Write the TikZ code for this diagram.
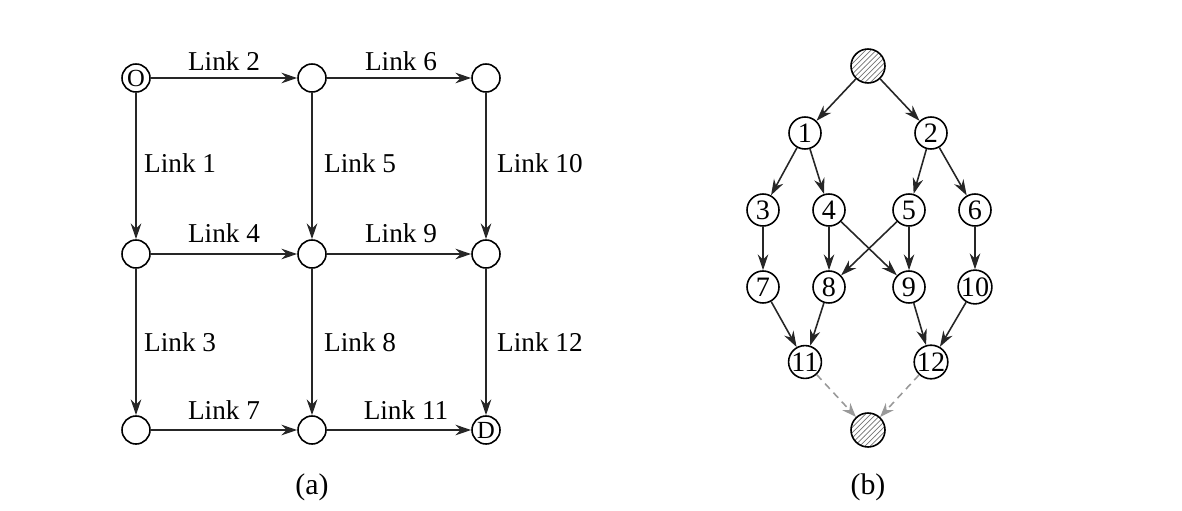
\documentclass[tikz,border=0pt]{standalone}
\usepackage{fontspec}
\setmainfont{Liberation Serif}
\usetikzlibrary{arrows.meta,patterns}
\begin{document}
\begin{tikzpicture}[x=0.02cm,y=-0.02cm,
  vtx/.style={circle,draw,line width=0.9pt,minimum size=28*0.02cm,inner sep=0pt,font=\fontsize{14}{14}\selectfont},
  num/.style={circle,draw,line width=0.9pt,minimum size=32*0.02cm,inner sep=0pt,font=\fontsize{16}{16}\selectfont},
  hat/.style={circle,draw,line width=0.9pt,minimum size=34*0.02cm,inner sep=0pt,pattern=north east lines,pattern color=gray!90!black},
  lnk/.style={font=\fontsize{15.5}{15.5}\selectfont},
  arr/.style={-{Stealth[length=9pt,width=6pt]},line width=0.9pt,draw=black!85},
  darr/.style={-{Stealth[length=8pt,width=6pt]},line width=0.9pt,draw=gray!80,dash pattern=on 4pt off 3pt}]
\useasboundingbox (0,0) rectangle (1182,510);
% grid network
\node[vtx] (o) at (136,78) {O};
\node[vtx] (a2) at (312,78) {};
\node[vtx] (a3) at (486,78) {};
\node[vtx] (b1) at (136,254) {};
\node[vtx] (b2) at (312,254) {};
\node[vtx] (b3) at (486,254) {};
\node[vtx] (c1) at (136,430) {};
\node[vtx] (c2) at (312,430) {};
\node[vtx] (d) at (486,430) {D};
\draw[arr] (o) -- (a2);
\draw[arr] (a2) -- (a3);
\draw[arr] (b1) -- (b2);
\draw[arr] (b2) -- (b3);
\draw[arr] (c1) -- (c2);
\draw[arr] (c2) -- (d);
\draw[arr] (o) -- (b1);
\draw[arr] (b1) -- (c1);
\draw[arr] (a2) -- (b2);
\draw[arr] (b2) -- (c2);
\draw[arr] (a3) -- (b3);
\draw[arr] (b3) -- (d);
\node[lnk] (l2) at (224,61) {Link 2};
\node[lnk] (l6) at (401,61) {Link 6};
\node[lnk] (l4) at (224,233) {Link 4};
\node[lnk] (l9) at (401,233) {Link 9};
\node[lnk] (l7) at (224,410) {Link 7};
\node[lnk] (l11) at (406,410) {Link 11};
\node[lnk,anchor=west] (l1) at (138,163) {Link 1};
\node[lnk,anchor=west] (l5) at (318,163) {Link 5};
\node[lnk,anchor=west] (l10) at (491,163) {Link 10};
\node[lnk,anchor=west] (l3) at (138,342) {Link 3};
\node[lnk,anchor=west] (l8) at (318,342) {Link 8};
\node[lnk,anchor=west] (l12) at (491,342) {Link 12};
\node[lnk,font=\fontsize{17}{17}\selectfont] (capa) at (312,487) {(a)};
% path tree
\node[hat] (s) at (868,66) {};
\node[num] (n1) at (805,133) {1};
\node[num] (n2) at (931,133) {2};
\node[num] (n3) at (763,210) {3};
\node[num] (n4) at (829,210) {4};
\node[num] (n5) at (909,210) {5};
\node[num] (n6) at (975,210) {6};
\node[num] (n7) at (763,287) {7};
\node[num] (n8) at (829,287) {8};
\node[num] (n9) at (909,287) {9};
\node[num] (n10) at (975,287) {10};
\node[num] (n11) at (805,362) {11};
\node[num] (n12) at (931,362) {12};
\node[hat] (t) at (868,430) {};
\draw[arr] (s) -- (n1);
\draw[arr] (s) -- (n2);
\draw[arr] (n1) -- (n3);
\draw[arr] (n1) -- (n4);
\draw[arr] (n2) -- (n5);
\draw[arr] (n2) -- (n6);
\draw[arr] (n3) -- (n7);
\draw[arr] (n4) -- (n8);
\draw[arr] (n4) -- (n9);
\draw[arr] (n5) -- (n8);
\draw[arr] (n5) -- (n9);
\draw[arr] (n6) -- (n10);
\draw[arr] (n7) -- (n11);
\draw[arr] (n8) -- (n11);
\draw[arr] (n9) -- (n12);
\draw[arr] (n10) -- (n12);
\draw[darr] (n11) -- (t);
\draw[darr] (n12) -- (t);
\node[lnk,font=\fontsize{17}{17}\selectfont] (capb) at (868,487) {(b)};
\end{tikzpicture}
\end{document}
